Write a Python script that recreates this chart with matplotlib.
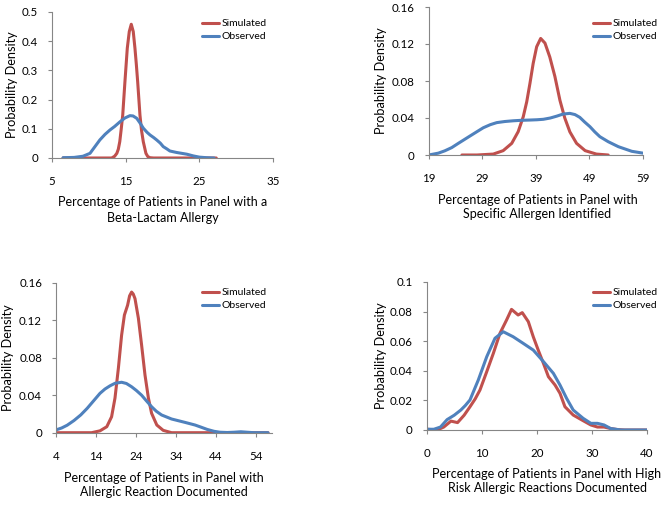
import matplotlib
matplotlib.use('Agg')
import matplotlib.pyplot as plt

W, H = 665, 512
RED = '#C0504D'
BLUE = '#4F81BD'
AXC = '#868686'
plt.rcParams['font.family'] = ['Lato', 'DejaVu Sans']

series_labels = ['Simulated', 'Observed']
ylabel_text = 'Probability Density'

# ---------------- Panel 1: Beta-Lactam Allergy ----------------
p1_xlabel = 'Percentage of Patients in Panel with a\nBeta-Lactam Allergy'
p1_xticks = [5, 15, 25, 35]
p1_yticks = [0, 0.1, 0.2, 0.3, 0.4, 0.5]
p1_yticklabels = ['0', '0.1', '0.2', '0.3', '0.4', '0.5']
p1_sim_x = [6.5, 10.0, 13.1, 13.5, 13.8, 14.0, 14.2, 14.4, 14.6, 14.9, 15.22, 15.49, 15.76, 16.03, 16.26, 16.45, 16.63, 16.94, 17.15, 17.39, 17.75, 18.0, 18.3, 18.8, 22.0, 27.3]
p1_sim_y = [0.0, 0.0, 0.0, 0.006, 0.016, 0.03, 0.056, 0.10, 0.147, 0.261, 0.376, 0.433, 0.458, 0.433, 0.376, 0.32, 0.261, 0.147, 0.095, 0.056, 0.016, 0.005, 0.001, 0.0, 0.0, 0.0]
p1_obs_x = [6.5, 8.0, 9.2, 10.16, 10.8, 11.5, 12.2, 12.87, 13.5, 14.23, 14.9, 15.58, 16.0, 16.5, 17.0, 17.4, 17.9, 18.3, 18.8, 19.2, 19.7, 20.1, 20.6, 21.0, 21.9, 23.3, 24.2, 25.0, 26.0, 27.0]
p1_obs_y = [0.001, 0.002, 0.006, 0.016, 0.038, 0.062, 0.081, 0.096, 0.108, 0.124, 0.137, 0.145, 0.144, 0.136, 0.118, 0.102, 0.088, 0.079, 0.070, 0.062, 0.051, 0.039, 0.031, 0.024, 0.019, 0.013, 0.007, 0.003, 0.001, 0.0]

# ---------------- Panel 2: Specific Allergen Identified ----------------
p2_xlabel = 'Percentage of Patients in Panel with\nSpecific Allergen Identified'
p2_xticks = [19, 29, 39, 49, 59]
p2_yticks = [0, 0.04, 0.08, 0.12, 0.16]
p2_yticklabels = ['0', '0.04', '0.08', '0.12', '0.16']
p2_sim_x = [25.2, 28.0, 31.05, 32.9, 34.5, 35.7, 36.65, 37.3, 37.9, 38.5, 39.15, 39.9, 40.7, 41.6, 42.55, 43.5, 44.4, 45.35, 46.6, 48.2, 50.3, 52.5]
p2_sim_y = [0.0, 0.0, 0.001, 0.0047, 0.0126, 0.0252, 0.0414, 0.0576, 0.0775, 0.099, 0.117, 0.126, 0.121, 0.106, 0.085, 0.059, 0.040, 0.025, 0.0126, 0.0047, 0.001, 0.0]
p2_obs_x = [19.0, 20.8, 22.0, 23.3, 24.5, 25.6, 26.7, 28.0, 29.2, 30.5, 31.7, 33.2, 34.8, 36.3, 37.9, 39.2, 40.4, 41.7, 42.9, 44.1, 45.35, 46.3, 47.2, 48.1, 49.1, 50.0, 50.95, 52.5, 54.4, 56.9, 59.0]
p2_obs_y = [0.0, 0.002, 0.0045, 0.008, 0.0125, 0.0165, 0.0205, 0.0252, 0.0295, 0.0328, 0.035, 0.0362, 0.037, 0.0375, 0.0378, 0.0381, 0.0386, 0.040, 0.042, 0.0443, 0.045, 0.0437, 0.0407, 0.0357, 0.0306, 0.0250, 0.0198, 0.0144, 0.009, 0.004, 0.002]

# ---------------- Panel 3: Allergic Reaction Documented ----------------
p3_xlabel = 'Percentage of Patients in Panel with\nAllergic Reaction Documented'
p3_xticks = [4, 14, 24, 34, 44, 54]
p3_yticks = [0, 0.04, 0.08, 0.12, 0.16]
p3_yticklabels = ['0', '0.04', '0.08', '0.12', '0.16']
p3_sim_x = [4.0, 10.0, 12.9, 15.0, 16.7, 17.9, 18.75, 19.6, 20.4, 21.1, 21.9, 22.4, 22.9, 23.3, 23.75, 24.6, 25.4, 26.25, 27.1, 27.9, 29.2, 30.8, 32.9, 45.0, 57.0]
p3_sim_y = [0.0, 0.0, 0.0, 0.002, 0.0064, 0.017, 0.037, 0.069, 0.104, 0.1255, 0.136, 0.146, 0.150, 0.148, 0.143, 0.122, 0.0935, 0.0615, 0.037, 0.0207, 0.0082, 0.0025, 0.0, 0.0, 0.0]
p3_obs_x = [4.0, 5.4, 6.8, 8.5, 10.2, 11.8, 13.0, 14.0, 15.0, 16.25, 17.5, 18.75, 20.4, 21.6, 22.9, 24.1, 25.4, 26.6, 27.9, 29.1, 30.4, 32.9, 36.25, 38.75, 40.2, 41.8, 43.5, 45.0, 46.8, 48.5, 50.2, 51.8, 53.5, 57.0]
p3_obs_y = [0.003, 0.005, 0.008, 0.013, 0.019, 0.026, 0.032, 0.037, 0.042, 0.0466, 0.050, 0.0527, 0.0538, 0.0525, 0.049, 0.045, 0.040, 0.034, 0.0277, 0.0228, 0.0189, 0.0146, 0.011, 0.0082, 0.006, 0.0035, 0.0015, 0.0005, 0.0002, 0.0005, 0.001, 0.0005, 0.0, 0.0]

# ---------------- Panel 4: High Risk Allergic Reactions ----------------
p4_xlabel = 'Percentage of Patients in Panel with High\nRisk Allergic Reactions Documented'
p4_xticks = [0, 10, 20, 30, 40]
p4_yticks = [0, 0.02, 0.04, 0.06, 0.08, 0.1]
p4_yticklabels = ['0', '0.02', '0.04', '0.06', '0.08', '0.1']
p4_sim_x = [0.1, 1.9, 3.1, 4.4, 5.6, 6.8, 7.86, 8.8, 9.67, 10.9, 12.1, 13.3, 14.5, 15.4, 16.6, 17.35, 18.45, 19.35, 20.25, 21.2, 22.1, 23.3, 24.2, 25.1, 26.6, 28.4, 29.8, 31.0, 32.2, 33.4, 34.6, 36.0, 40.0]
p4_sim_y = [0.0005, 0.0, 0.002, 0.006, 0.005, 0.010, 0.0157, 0.021, 0.027, 0.0394, 0.0518, 0.0653, 0.0743, 0.0815, 0.0777, 0.0793, 0.0732, 0.063, 0.054, 0.045, 0.036, 0.0304, 0.0248, 0.0157, 0.0101, 0.0063, 0.0034, 0.002, 0.002, 0.001, 0.0003, 0.0, 0.0]
p4_obs_x = [0.1, 1.3, 2.5, 3.7, 5.0, 6.2, 7.0, 7.86, 9.37, 10.9, 12.4, 13.9, 15.7, 17.5, 19.35, 21.2, 23.0, 24.2, 25.4, 26.6, 28.4, 29.8, 31.0, 32.2, 33.4, 35.3, 40.0]
p4_obs_y = [0.0005, 0.0005, 0.002, 0.007, 0.010, 0.0135, 0.0165, 0.0203, 0.0338, 0.0495, 0.062, 0.0664, 0.063, 0.0586, 0.054, 0.0462, 0.0383, 0.0304, 0.0214, 0.0135, 0.0079, 0.0045, 0.0045, 0.0034, 0.001, 0.0, 0.0]

panels = [
    dict(rect=(52, 12, 273, 158), xlim=(5, 35), ylim=(0, 0.5), xticks=p1_xticks,
         yticks=p1_yticks, yticklabels=p1_yticklabels, xlabel=p1_xlabel,
         sim=(p1_sim_x, p1_sim_y), obs=(p1_obs_x, p1_obs_y),
         ylab_x=12, xlab=(163, 210), leg=(202, 19)),
    dict(rect=(428.7, 7, 643, 155), xlim=(19, 59), ylim=(0, 0.16), xticks=p2_xticks,
         yticks=p2_yticks, yticklabels=p2_yticklabels, xlabel=p2_xlabel,
         sim=(p2_sim_x, p2_sim_y), obs=(p2_obs_x, p2_obs_y),
         ylab_x=381, xlab=(537.5, 207), leg=(593, 19)),
    dict(rect=(56, 282.7, 272, 432.7), xlim=(4, 58), ylim=(0, 0.16), xticks=p3_xticks,
         yticks=p3_yticks, yticklabels=p3_yticklabels, xlabel=p3_xlabel,
         sim=(p3_sim_x, p3_sim_y), obs=(p3_obs_x, p3_obs_y),
         ylab_x=8, xlab=(164, 485), leg=(202, 288)),
    dict(rect=(426.7, 282, 647, 430), xlim=(0, 40), ylim=(0, 0.1), xticks=p4_xticks,
         yticks=p4_yticks, yticklabels=p4_yticklabels, xlabel=p4_xlabel,
         sim=(p4_sim_x, p4_sim_y), obs=(p4_obs_x, p4_obs_y),
         ylab_x=381, xlab=(547, 481), leg=(593, 288)),
]

fig = plt.figure(figsize=(W / 100, H / 100), dpi=100)
fig.patch.set_facecolor('white')

for p in panels:
    l, t, r, b = p['rect']
    ax = fig.add_axes([l / W, 1 - b / H, (r - l) / W, (b - t) / H])
    ax.plot(p['sim'][0], p['sim'][1], color=RED, lw=2.2, label=series_labels[0],
            solid_joinstyle='round', solid_capstyle='round')
    ax.plot(p['obs'][0], p['obs'][1], color=BLUE, lw=2.2, label=series_labels[1],
            solid_joinstyle='round', solid_capstyle='round')
    ax.set_xlim(*p['xlim'])
    ax.set_ylim(*p['ylim'])
    ax.set_xticks(p['xticks'])
    ax.set_xticklabels([str(v) for v in p['xticks']])
    ax.set_yticks(p['yticks'])
    ax.set_yticklabels(p['yticklabels'])
    for s in ['top', 'right']:
        ax.spines[s].set_visible(False)
    for s in ['left', 'bottom']:
        ax.spines[s].set_color(AXC)
        ax.spines[s].set_linewidth(0.8)
    ax.tick_params(axis='both', length=3, width=0.8, color=AXC, labelsize=8.3,
                   labelcolor='black')
    ax.tick_params(axis='x', pad=10)
    ax.tick_params(axis='y', pad=7)
    ax.set_ylabel(ylabel_text, fontsize=9.2, va='center')
    ax.yaxis.set_label_coords((p['ylab_x'] - l) / (r - l), 0.5)
    ax.set_xlabel(p['xlabel'], fontsize=9.0, va='center', linespacing=1.3)
    ax.xaxis.set_label_coords((p['xlab'][0] - l) / (r - l), (b - p['xlab'][1]) / (b - t))
    lx, ly = p['leg']
    ax.legend(loc='upper left', bbox_to_anchor=(lx / W, 1 - ly / H),
              bbox_transform=fig.transFigure, frameon=False, fontsize=7.5,
              handlelength=1.6, handletextpad=0.3, borderpad=0, borderaxespad=0,
              labelspacing=0.35)

fig.savefig('out.png', dpi=100, facecolor='white')
